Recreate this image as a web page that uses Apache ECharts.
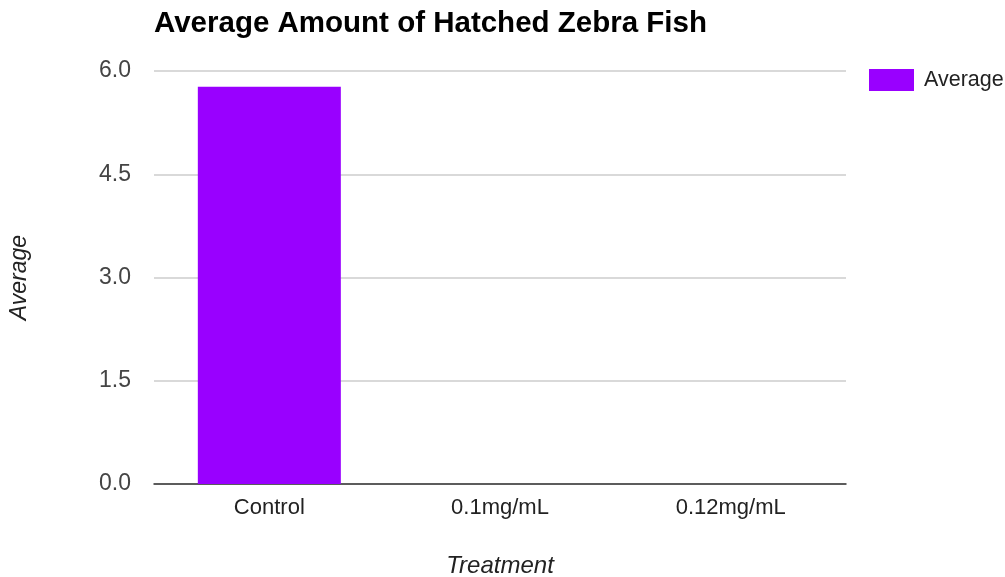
<!DOCTYPE html>
<html><head><meta charset="utf-8">
<script src="https://cdn.jsdelivr.net/npm/echarts@6/dist/echarts.min.js"></script>
<style>html,body{margin:0;padding:0;background:#fff}#c{width:1005px;height:577px}</style>
</head><body><div id="c"></div>
<script>
var categories = ['Control', '0.1mg/mL', '0.12mg/mL'];
var averageValues = [5.77, 0, 0];
var seriesName = 'Average';
var chart = echarts.init(document.getElementById('c'));
chart.setOption({
  backgroundColor: '#fff',
  animation: false,
  title: {
    text: 'Average Amount of Hatched Zebra Fish',
    left: 149, top: 4,
    textStyle: {fontFamily: 'Liberation Sans', fontWeight: 'bold', fontSize: 29.5, color: '#000'}
  },
  legend: {
    data: [{name: seriesName, icon: 'rect'}],
    left: 869, top: 69, padding: 0,
    itemWidth: 45, itemHeight: 22,
    textStyle: {fontFamily: 'Liberation Sans', fontSize: 21.5, color: '#222', padding: [0, 0, 0, 5]}
  },
  grid: {left: 154, right: 159, top: 71, bottom: 93, containLabel: false, outerBoundsMode: 'none'},
  xAxis: {
    type: 'category', data: categories,
    name: 'Treatment', nameLocation: 'middle', nameGap: 70,
    nameTextStyle: {fontFamily: 'Liberation Sans', fontStyle: 'italic', fontSize: 24, color: '#222'},
    axisLine: {lineStyle: {color: '#333', width: 1.5}},
    axisTick: {show: false},
    axisLabel: {fontFamily: 'Liberation Sans', fontSize: 22, color: '#222', margin: 13}
  },
  yAxis: {
    type: 'value', min: 0, max: 6, interval: 1.5,
    name: 'Average', nameLocation: 'middle', nameGap: 123,
    nameTextStyle: {fontFamily: 'Liberation Sans', fontStyle: 'italic', fontSize: 23, color: '#222'},
    axisLine: {show: false}, axisTick: {show: false},
    axisLabel: {fontFamily: 'Liberation Sans', fontSize: 23, color: '#444', margin: 23,
      formatter: function(v){return v.toFixed(1);}},
    splitLine: {lineStyle: {color: '#ccc', width: 1.5}}
  },
  series: [{
    name: seriesName, type: 'bar', data: averageValues,
    barCategoryGap: '38%',
    itemStyle: {color: '#9900ff'}
  }]
});
</script></body></html>
